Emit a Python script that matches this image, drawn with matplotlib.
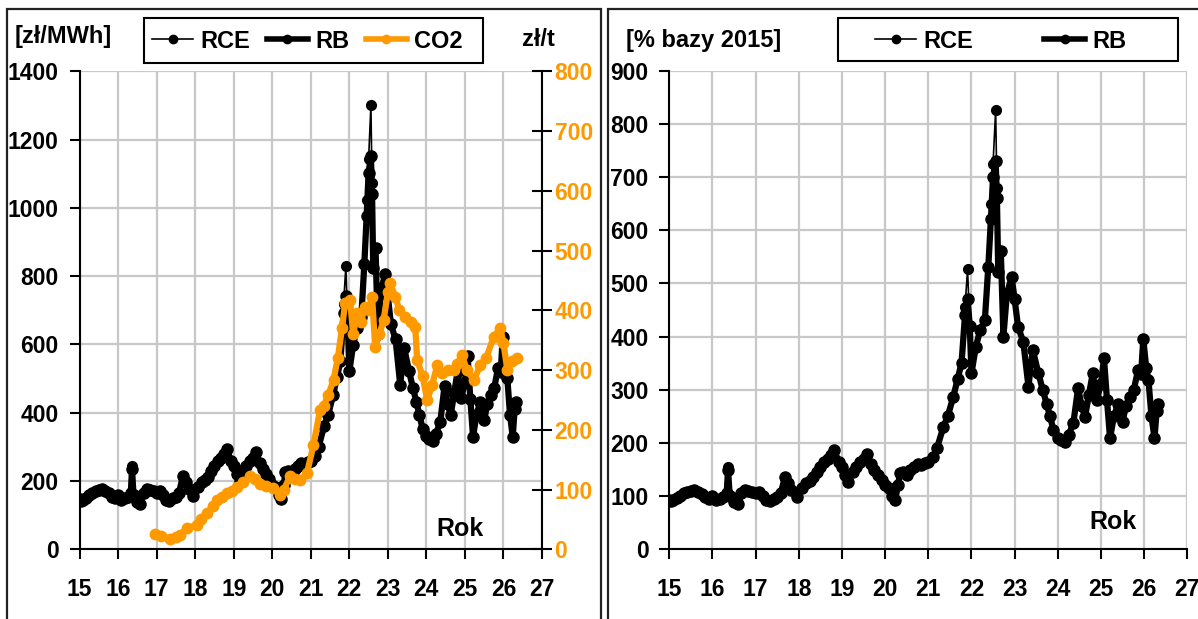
import numpy as np
import matplotlib.pyplot as plt
from matplotlib.patches import Rectangle
from matplotlib.lines import Line2D

plt.rcParams['font.family'] = ['Liberation Sans', 'DejaVu Sans']
plt.rcParams['font.weight'] = 'bold'
FS = 17      # titles / legend
FT = 16.5    # tick labels

# --- data (year as 15 = 2015) ---
# RCE / RB prices as % of 2015 average, converted to zl/MWh with base_2015
base_2015 = 157.6  # zl/MWh

years = [
    15.00, 15.04, 15.08, 15.17, 15.25, 15.33, 15.42, 15.50, 15.58, 15.67, 15.75, 15.83, 15.92,
    16.00, 16.08, 16.17, 16.25, 16.33, 16.36, 16.40, 16.50, 16.58, 16.67, 16.75, 16.83, 16.92,
    17.00, 17.08, 17.17, 17.25, 17.33, 17.42, 17.50, 17.58, 17.68, 17.75, 17.83, 17.95,
    18.08, 18.17, 18.25, 18.33, 18.42, 18.50, 18.58, 18.67, 18.75, 18.82, 18.92,
    19.00, 19.08, 19.15, 19.25, 19.33, 19.42, 19.50, 19.57, 19.67, 19.75, 19.83, 19.92,
    20.00, 20.08, 20.17, 20.23, 20.30, 20.34, 20.42, 20.50, 20.58, 20.67, 20.75, 20.83, 20.92,
    21.00, 21.11, 21.20, 21.35, 21.45, 21.58, 21.68, 21.77, 21.85, 21.91, 21.96,
    22.00, 22.10, 22.20, 22.31, 22.39, 22.45, 22.50, 22.56, 22.59, 22.62, 22.68, 22.74, 22.82, 22.93,
    23.00, 23.08, 23.20, 23.32, 23.42, 23.55, 23.65, 23.74, 23.82, 23.90,
    24.00, 24.08, 24.17, 24.25, 24.36, 24.47, 24.55, 24.63, 24.72, 24.81, 24.90,
    25.00, 25.07, 25.14, 25.21, 25.30, 25.40, 25.50, 25.58, 25.67, 25.76, 25.86, 25.93, 25.98,
    26.05, 26.10, 26.17, 26.24, 26.29, 26.33,
]

rce_pct = [
    93, 90, 92, 96, 100, 105, 108, 110, 112, 108, 104, 98, 95,
    100, 92, 95, 98, 105, 155, 100, 88, 85, 105, 112, 110, 108,
    105, 108, 100, 92, 90, 95, 98, 105, 136, 125, 112, 99,
    115, 125, 128, 135, 145, 155, 165, 170, 178, 187, 165,
    155, 140, 127, 145, 155, 165, 170, 180, 160, 150, 140, 130,
    120, 115, 100, 93, 120, 143, 145, 140, 150, 155, 160, 158, 162,
    165, 174, 190, 230, 250, 287, 320, 350, 456, 526, 420,
    331, 380, 412, 431, 531, 650, 725, 825, 680, 522, 560, 400, 480, 512,
    470, 418, 390, 306, 375, 331, 300, 274, 250, 224,
    210, 205, 202, 215, 237, 303, 270, 249, 290, 331, 281,
    310, 359, 280, 209, 250, 274, 240, 270, 287, 300, 337, 330, 395,
    340, 318, 250, 209, 260, 274,
]

rb_pct = [
    93, 90, 92, 96, 100, 105, 108, 110, 112, 108, 104, 98, 95,
    100, 92, 95, 98, 105, 150, 100, 88, 85, 105, 112, 110, 108,
    105, 108, 100, 92, 90, 95, 98, 105, 136, 125, 112, 99,
    115, 125, 128, 135, 145, 155, 165, 170, 178, 187, 165,
    155, 140, 127, 145, 155, 165, 170, 180, 160, 150, 140, 130,
    120, 115, 100, 93, 120, 143, 145, 140, 150, 155, 160, 158, 162,
    165, 174, 190, 230, 250, 287, 320, 350, 440, 470, 420,
    331, 380, 412, 431, 531, 620, 700, 730, 660, 522, 560, 400, 480, 512,
    470, 418, 390, 306, 375, 331, 300, 274, 250, 224,
    210, 205, 202, 215, 237, 303, 270, 249, 290, 331, 281,
    310, 359, 280, 209, 250, 274, 240, 270, 287, 300, 337, 330, 395,
    340, 318, 250, 209, 260, 274,
]

# CO2 allowance price, zl/t
co2_years = [
    16.96, 17.10, 17.35, 17.50, 17.60, 17.78,
    18.04, 18.15, 18.30, 18.45, 18.56, 18.70, 18.82, 18.95,
    19.08, 19.25, 19.43, 19.55, 19.69, 19.85,
    20.03, 20.20, 20.30, 20.46, 20.60, 20.72, 20.90,
    21.07, 21.24, 21.33, 21.45, 21.59, 21.70, 21.81, 21.89,
    22.02, 22.10, 22.20, 22.30, 22.41, 22.50, 22.59, 22.67, 22.78, 22.89,
    23.00, 23.06, 23.19, 23.30, 23.45, 23.60, 23.71, 23.76, 23.90,
    24.02, 24.15, 24.28, 24.40, 24.55, 24.71, 24.80, 24.92,
    25.05, 25.23, 25.40, 25.55, 25.75, 25.92,
    26.00, 26.10, 26.22, 26.35,
]
co2 = [
    26, 22, 18, 20, 24, 35,
    41, 50, 60, 72, 82, 88, 94, 98,
    105, 112, 122, 118, 110, 106,
    102, 91, 100, 122, 118, 116, 127,
    175, 233, 240, 258, 283, 320, 370, 412,
    417, 360, 395, 380, 406, 400, 423, 339, 360, 384,
    430, 445, 423, 400, 389, 380, 372, 317, 290,
    250, 275, 308, 295, 300, 300, 310, 325,
    300, 283, 308, 320, 356, 370,
    345, 300, 315, 320,
]

x_ticks = list(range(15, 28))
rce_zl = np.array(rce_pct) * base_2015 / 100
rb_zl = np.array(rb_pct) * base_2015 / 100

ORANGE = '#FF9900'
GRID = '#c8c8c8'
W, H = 1198, 619

fig = plt.figure(figsize=(W / 100, H / 100), dpi=100)


def fx(px):
    return px / W


def fy(py):
    return 1 - py / H


def style_axis(ax, ymax, ystep):
    ax.set_xlim(15, 27)
    ax.set_ylim(0, ymax)
    ax.set_xticks(x_ticks)
    ax.set_xticklabels([str(t) for t in x_ticks])
    ax.set_yticks(np.arange(0, ymax + 1, ystep))
    ax.grid(True, color=GRID, linewidth=1.6)
    ax.set_axisbelow(True)
    ax.spines['top'].set_visible(False)
    ax.spines['right'].set_visible(False)
    for s in ('left', 'bottom'):
        ax.spines[s].set_linewidth(1.5)
    ax.tick_params(axis='x', length=7, width=1.5, pad=14, labelsize=FT)
    ax.tick_params(axis='y', length=7, width=1.5, pad=8, labelsize=FT)
    for lab in ax.get_xticklabels() + ax.get_yticklabels():
        lab.set_fontweight('bold')


# ---------------- left panel ----------------
ax1 = fig.add_axes([fx(79.6), fy(549.3), fx(542) - fx(79.6), fy(71.3) - fy(549.3)])
style_axis(ax1, 1400, 200)
ax1.plot(years, rb_zl, color='black', lw=4.5, marker='o', ms=8)
ax1.plot(years, rce_zl, color='black', lw=1.2, marker='o', ms=7)

ax2 = ax1.twinx()
ax2.set_ylim(0, 800)
ax2.set_yticks(np.arange(0, 801, 100))
ax2.plot(co2_years, co2, color=ORANGE, lw=4.5, marker='o', ms=7.5)
for s in ('top', 'left', 'bottom'):
    ax2.spines[s].set_visible(False)
ax2.spines['right'].set_linewidth(1.5)
ax2.tick_params(axis='y', direction='inout', length=14, width=1.5, pad=2,
                labelsize=FT, labelcolor=ORANGE)
for lab in ax2.get_yticklabels():
    lab.set_fontweight('bold')

fig.text(fx(15), fy(37), '[zł/MWh]', fontsize=FS, fontweight='bold', va='center', ha='left')
fig.text(fx(522), fy(39), 'zł/t', fontsize=FS, fontweight='bold', va='center', ha='left')
fig.text(fx(460), fy(529), 'Rok', fontsize=FS + 1, fontweight='bold', ha='center', va='center')

# ---------------- right panel ----------------
ax3 = fig.add_axes([fx(669.3), fy(549.3), fx(1187.3) - fx(669.3), fy(70.5) - fy(549.3)])
style_axis(ax3, 900, 100)
ax3.plot(years, rb_pct, color='black', lw=4.5, marker='o', ms=8)
ax3.plot(years, rce_pct, color='black', lw=1.2, marker='o', ms=7)

fig.text(fx(626), fy(40), '[% bazy 2015]', fontsize=FS, fontweight='bold', va='center', ha='left')
fig.text(fx(1113), fy(522), 'Rok', fontsize=FS + 1, fontweight='bold', ha='center', va='center')

# ---------------- legends ----------------
h_rce = Line2D([], [], color='black', lw=1.2, marker='o', ms=6)
h_rb = Line2D([], [], color='black', lw=4, marker='o', ms=6)
h_co2 = Line2D([], [], color=ORANGE, lw=4, marker='o', ms=6)

fig.legend([h_rce, h_rb, h_co2], ['RCE', 'RB', 'CO2'], loc='center left',
           bbox_to_anchor=(fx(152), fy(41)), ncol=3, frameon=False,
           prop={'size': FS, 'weight': 'bold'}, handlelength=1.75,
           handletextpad=0.3, columnspacing=0.7, borderaxespad=0, borderpad=0)
fig.legend([h_rce, h_rb], ['RCE', 'RB'], loc='center left',
           bbox_to_anchor=(fx(875), fy(41)), ncol=2, frameon=False,
           prop={'size': FS, 'weight': 'bold'}, handlelength=1.75,
           handletextpad=0.3, columnspacing=3.0, borderaxespad=0, borderpad=0)

# legend frames and panel borders
for (x0, y0, x1, y1) in [(144, 18, 483, 63), (838, 18, 1178, 61)]:
    fig.add_artist(Rectangle((fx(x0), fy(y1)), fx(x1) - fx(x0), fy(y0) - fy(y1),
                             transform=fig.transFigure, fill=False, ec='black', lw=1.5))
for (x0, x1) in [(7, 601), (608, 1230)]:
    fig.add_artist(Rectangle((fx(x0), -0.1), fx(x1) - fx(x0), fy(9) + 0.1,
                             transform=fig.transFigure, fill=False, ec='#222222', lw=1.6,
                             clip_on=False))

fig.savefig('out.png', dpi=100)
